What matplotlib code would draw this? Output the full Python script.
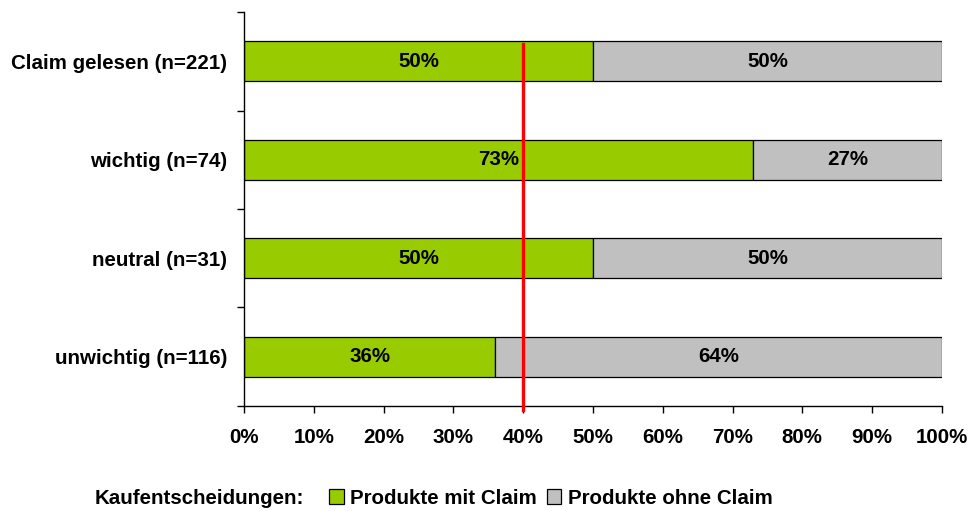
import matplotlib
matplotlib.use("Agg")
import matplotlib.pyplot as plt
from matplotlib.patches import Patch
import numpy as np

plt.rcParams['font.family'] = ['Liberation Sans', 'DejaVu Sans']
plt.rcParams['font.weight'] = 'bold'

categories = ["Claim gelesen (n=221)", "wichtig (n=74)", "neutral (n=31)", "unwichtig (n=116)"]
mit_claim = [50, 73, 50, 36]
ohne_claim = [50, 27, 50, 64]
series_names = ["Produkte mit Claim", "Produkte ohne Claim"]
legend_title = "Kaufentscheidungen:"
reference_value = 40
xticks = list(range(0, 101, 10))

green = "#99CC00"
grey = "#C0C0C0"
FS = 14.8

fig = plt.figure(figsize=(9.69, 5.11), dpi=100)
ax = fig.add_axes([0.2518, 0.2055, 0.7202, 0.771])

n = len(categories)
ypos = np.arange(n)[::-1]
h = 0.41
ax.barh(ypos, mit_claim, height=h, color=green, edgecolor="black", linewidth=0.9)
ax.barh(ypos, ohne_claim, left=mit_claim, height=h, color=grey, edgecolor="black", linewidth=0.9)

for y, a, b in zip(ypos, mit_claim, ohne_claim):
    ax.text(a / 2, y, f"{a}%", ha="center", va="center", fontsize=FS, fontweight="bold")
    ax.text(a + b / 2, y, f"{b}%", ha="center", va="center", fontsize=FS, fontweight="bold")

ax.plot([reference_value, reference_value], [n - 1 + 0.175, -0.54], color="#FF0000",
        linewidth=2.4, clip_on=False, zorder=5)

ax.set_xlim(0, 100)
ax.set_ylim(-0.5, n - 0.5)
ax.set_xticks(xticks)
ax.set_xticklabels([f"{t}%" for t in xticks], fontsize=FS, fontweight="bold")
ax.set_yticks(ypos)
ax.set_yticklabels(categories, fontsize=FS, fontweight="bold")
ax.set_yticks(np.arange(-0.5, n, 1), minor=True)
ax.tick_params(axis="y", which="major", length=0, pad=12)
ax.tick_params(axis="y", which="minor", length=5, width=1, direction="out")
ax.tick_params(axis="x", which="major", length=5, width=1, direction="out", pad=11)

for s in ["top", "right"]:
    ax.spines[s].set_visible(False)
for s in ["left", "bottom"]:
    ax.spines[s].set_linewidth(1)
    ax.spines[s].set_color("black")

ly = 1 - 498 / 511
fig.text(0.098, ly, legend_title, fontsize=FS, fontweight="bold", ha="left", va="center")
handles = [Patch(facecolor=green, edgecolor="black", linewidth=0.9),
           Patch(facecolor=grey, edgecolor="black", linewidth=0.9)]
leg = fig.legend(handles, series_names, loc="center left", bbox_to_anchor=(0.340, ly),
                 ncol=2, frameon=False, fontsize=FS, handlelength=0.7, handleheight=0.7,
                 handletextpad=0.3, columnspacing=0.5, borderaxespad=0.0, borderpad=0.0)

fig.savefig("out.png", dpi=100)
